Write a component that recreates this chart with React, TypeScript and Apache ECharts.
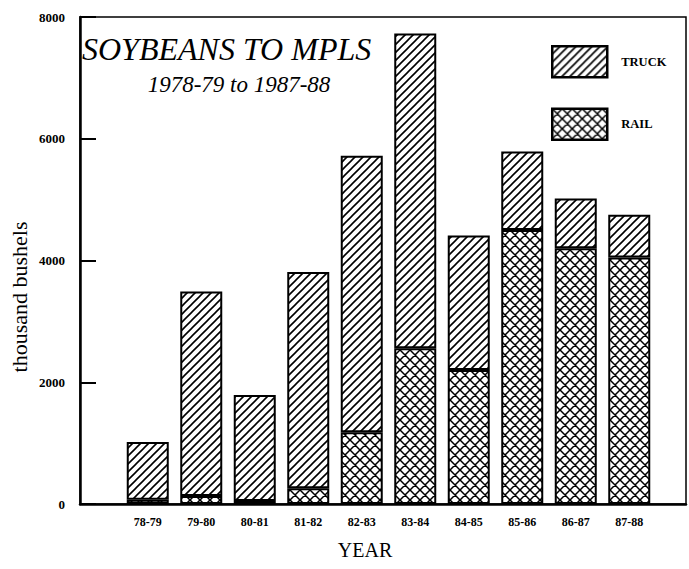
import React, { useEffect, useRef } from 'react';
import * as echarts from 'echarts';

const categories = ['78-79', '79-80', '80-81', '81-82', '82-83', '83-84', '84-85', '85-86', '86-87', '87-88'];
const railValues = [70, 130, 50, 260, 1180, 2560, 2200, 4500, 4200, 4050];
const truckValues = [950, 3360, 1740, 3550, 4540, 5170, 2210, 1290, 820, 700];
const yMin = 0;
const yMax = 8000;
const yInterval = 2000;
const titleText = 'SOYBEANS TO MPLS';
const subtitleText = '1978-79 to 1987-88';
const xName = 'YEAR';
const yName = 'thousand bushels';

const SERIF = '"Liberation Serif", "Times New Roman", serif';

function makePattern(kind: 'stripe' | 'cross', size: number, lw: number) {
  const c = document.createElement('canvas');
  c.width = size;
  c.height = size;
  const ctx = c.getContext('2d')!;
  ctx.fillStyle = '#fff';
  ctx.fillRect(0, 0, size, size);
  ctx.strokeStyle = '#000';
  ctx.lineWidth = lw;
  ctx.beginPath();
  ctx.moveTo(-1, size + 1);
  ctx.lineTo(size + 1, -1);
  ctx.moveTo(-2, 2);
  ctx.lineTo(2, -2);
  ctx.moveTo(size - 2, size + 2);
  ctx.lineTo(size + 2, size - 2);
  if (kind === 'cross') {
    ctx.moveTo(-1, -1);
    ctx.lineTo(size + 1, size + 1);
    ctx.moveTo(-2, size - 2);
    ctx.lineTo(2, size + 2);
    ctx.moveTo(size - 2, -2);
    ctx.lineTo(size + 2, 2);
  }
  ctx.stroke();
  return { image: c, repeat: 'repeat', imageWidth: size, imageHeight: size } as any;
}

export default function App() {
  const ref = useRef<HTMLDivElement>(null);
  useEffect(() => {
    if (!ref.current) return;
    const chart = echarts.init(ref.current, null, { renderer: 'svg' });
    const stripe = makePattern('stripe', 8, 1.6);
    const cross = makePattern('cross', 10, 1.5);
    const option: any = {
      animation: false,
      backgroundColor: '#fff',
      grid: [
        { left: 80, right: 3, top: 17, bottom: 65, show: true, borderColor: '#000', borderWidth: 1.5 },
        { left: 121, right: 33, top: 17, bottom: 65 },
      ],
      xAxis: [
        {
          type: 'value', gridIndex: 0, min: 0, max: 1,
          axisLabel: { show: false }, axisTick: { show: false }, splitLine: { show: false },
          axisLine: { show: true, lineStyle: { color: '#000', width: 2.5 } },
        },
        {
          type: 'category', gridIndex: 1, data: categories,
          axisLine: { show: false }, axisTick: { show: false }, splitLine: { show: false },
          axisLabel: { color: '#000', fontFamily: SERIF, fontWeight: 'bold', fontSize: 12, margin: 12 },
        },
      ],
      yAxis: [
        {
          type: 'value', gridIndex: 0, min: yMin, max: yMax, interval: yInterval,
          splitLine: { show: false },
          axisLine: { show: true, lineStyle: { color: '#000', width: 2.5 } },
          axisTick: { show: true, inside: true, length: 16, lineStyle: { color: '#000', width: 2 } },
          axisLabel: {
            color: '#000', fontFamily: SERIF, fontWeight: 'bold', fontSize: 13, margin: 15,
            formatter: (v: number) => String(v),
          },
        },
        {
          type: 'value', gridIndex: 1, min: yMin, max: yMax, interval: yInterval, show: false,
        },
      ],
      legend: {
        orient: 'vertical', left: 551, top: 45, itemWidth: 55, itemHeight: 31, itemGap: 29,
        padding: 0, icon: 'rect', data: ['TRUCK', 'RAIL'],
        itemStyle: { borderColor: '#000', borderWidth: 2.5 },
        textStyle: { color: '#000', fontFamily: SERIF, fontWeight: 'bold', fontSize: 12.5, padding: [0, 0, 0, 9] },
        selectedMode: false,
      },
      graphic: [
        {
          type: 'text', left: 82, top: 33,
          style: { text: titleText, fill: '#000', font: `italic 32px ${SERIF}` },
        },
        {
          type: 'text', x: 239, y: 84,
          style: { text: subtitleText, fill: '#000', font: `italic 23px ${SERIF}`, textAlign: 'center', textVerticalAlign: 'middle' },
        },
        {
          type: 'text', x: 365, y: 550,
          style: { text: xName, fill: '#000', font: `20px ${SERIF}`, textAlign: 'center', textVerticalAlign: 'middle' },
        },
        {
          type: 'text', x: 19, y: 297, rotation: Math.PI / 2,
          style: { text: yName, fill: '#000', font: `22px ${SERIF}`, textAlign: 'center', textVerticalAlign: 'middle' },
        },
      ],
      series: [
        {
          name: 'RAIL', type: 'bar', stack: 'total', xAxisIndex: 1, yAxisIndex: 1, barWidth: 42,
          data: railValues,
          itemStyle: { color: cross, borderColor: '#000', borderWidth: 2 },
        },
        {
          name: 'TRUCK', type: 'bar', stack: 'total', xAxisIndex: 1, yAxisIndex: 1, barWidth: 42,
          data: truckValues,
          itemStyle: { color: stripe, borderColor: '#000', borderWidth: 2 },
        },
      ],
    };
    chart.setOption(option);
    return () => chart.dispose();
  }, []);
  return <div ref={ref} style={{ width: 689, height: 569, position: 'absolute', left: 0, top: 0 }} />;
}
